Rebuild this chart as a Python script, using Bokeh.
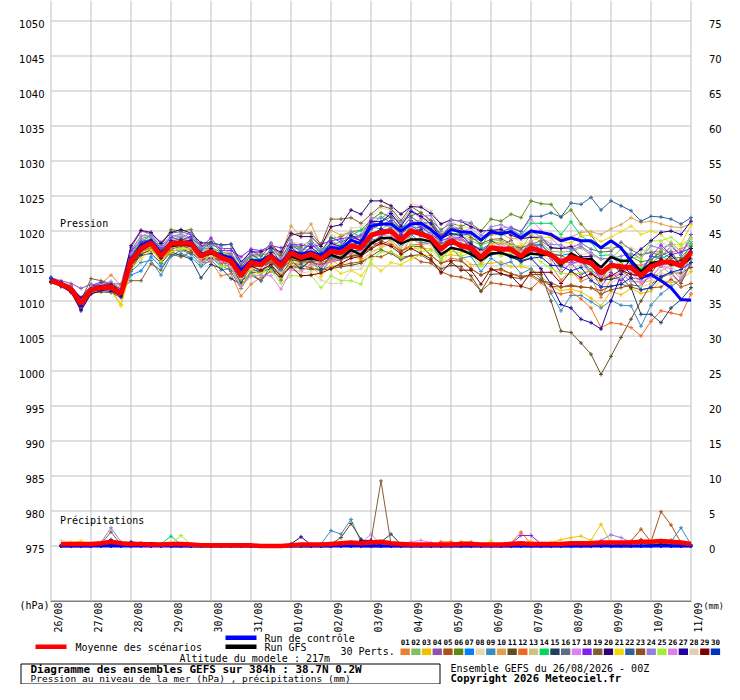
import math
from bokeh.plotting import figure
from bokeh.models import Range1d
from bokeh.layouts import column
from bokeh.embed import file_html
from bokeh.resources import INLINE
from bokeh.core.properties import value

MONO = "DejaVu Sans Mono"
SANS = "DejaVu Sans"

# ---------------- data ----------------
date_labels = ["26/08", "27/08", "28/08", "29/08", "30/08", "31/08", "01/09", "02/09",
               "03/09", "04/09", "05/09", "06/09", "07/09", "08/09", "09/09", "10/09", "11/09"]
day_ticks = list(range(17))
hpa_ticks = [975, 980, 985, 990, 995, 1000, 1005, 1010, 1015, 1020, 1025, 1030, 1035, 1040, 1045, 1050]
mm_ticks = [0, 5, 10, 15, 20, 25, 30, 35, 40, 45, 50, 55, 60, 65, 70, 75]
hours = list(range(0, 385, 6))          # 65 forecast steps, every 6 h
days = [h / 24 for h in hours]

colors = ["#E8802E", "#80C060", "#F0C000", "#9050B0", "#B05010", "#5A8A10", "#0080FF", "#E8D8B0",
          "#3A8AC0", "#E0A050", "#605020", "#F06820", "#D0C080", "#00D860", "#204060", "#607080",
          "#E080F0", "#8020F0", "#806030", "#300070", "#F0D800", "#3060A0", "#905020", "#9080E0",
          "#A0F030", "#E080E0", "#2000A0", "#E0D0B0", "#800000", "#0030C0"]

# ensemble mean sea level pressure (hPa)
mean_p = [1012.9, 1012.4, 1011.7, 1009.6, 1011.6,
          1011.9, 1012.0, 1011.0, 1015.7, 1017.5,
          1018.3, 1016.4, 1018.2, 1018.3, 1018.2,
          1016.4, 1017.1, 1016.2, 1015.7, 1013.6,
          1015.5, 1015.2, 1016.4, 1015.0, 1016.9,
          1016.2, 1016.7, 1016.0, 1017.1, 1016.9,
          1017.9, 1017.6, 1019.4, 1019.8, 1020.0,
          1018.7, 1020.0, 1019.6, 1019.0, 1017.4,
          1018.6, 1017.9, 1017.6, 1016.2, 1017.6,
          1017.4, 1017.4, 1016.4, 1017.6, 1017.1,
          1016.6, 1015.5, 1016.3, 1015.8, 1015.4,
          1014.0, 1015.1, 1014.9, 1014.8, 1013.6,
          1014.9, 1015.5, 1015.6, 1015.0, 1017.0]

# departures of each run from the ensemble mean (hPa)
ctrl_dev = [0.2,0.1,0.0,-0.3,0.2, 0.1,0.0,-0.2,0.2,0.5, 0.3,0.4,0.2,0.0,0.3, 0.2,0.0,0.3,0.5,0.8, 0.3,0.5,0.2,0.4,0.2, 0.5,0.3,0.4,0.6,0.5, 0.8,0.6,1.3,1.2,1.0, 1.3,1.0,1.5,1.2,1.5, 1.6,2.0,2.2,2.5,2.3, 2.2,2.5,2.6,2.4,2.7, 2.9,3.1,2.7,2.8,3.2, 3.6,3.5,2.7,0.9,-0.3, -1.1,-2.6,-3.7,-4.8,-6.9]
gfs_dev = [-0.1,0.0,-0.2,0.2,0.0, 0.2,-0.1,0.1,-0.3,-0.2, -0.2,0.2,-0.4,-0.2,-0.3, 0.0,-0.3,0.1,-0.2,0.3, -0.2,0.0,-0.3,0.2,-0.5, -0.3,-0.6,-0.2,-0.5,-0.8, -0.6,-1.0,-1.2,-0.8,-1.0, -0.5,-1.2,-0.8,-0.5,-0.8, -1.0,-0.6,-0.9,-0.4,-0.8, -0.5,-1.0,-0.3,-0.8,-0.5, 0.0,-0.4,0.5,0.2,0.6, 0.8,1.2,0.8,1.0,0.6, 0.5,0.2,-0.3,0.0,-0.8]

d01 = [0.2,0.3,0.5,0.8,0.4, 0.6,1.7,1.2,-1.0,-0.5, -0.8,-0.4,-0.9,-1.2,-0.6, -1.0,-1.5,-2.6,-1.8,-2.9, -3.1,-1.8,-2.2,-1.5,-1.0, -0.5,0.2,-0.8,-1.2,-0.6, -1.5,-0.8,-1.2,-2.0,-1.5, -2.0,-1.0,-1.5,-0.8,-0.5, -1.2,-0.6,-0.3,-0.8,0.2, -0.5,0.3,0.8,0.2,-0.8, -1.5,-2.5,-2.0,-3.0,-2.0, -3.5,-2.0,-1.0,0.5,1.5, 0.8,2.0,1.2,2.5,1.0]
d02 = [0.1,0.0,0.2,0.4,0.3, 0.2,-0.1,0.5,0.8,1.2, 0.8,1.0,0.5,0.9,0.4, 0.6,0.8,0.2,0.5,0.8, 0.2,0.5,-0.2,0.4,0.8, 1.2,0.5,0.8,1.5,1.0, 1.6,0.9,1.2,0.5,1.0, 0.6,1.4,0.8,1.2,0.3, 0.8,1.5,1.0,1.8,0.9, 1.3,0.5,1.0,2.0,1.2, 0.5,1.5,0.8,1.8,1.2, 2.0,1.0,2.5,1.8,3.0, 2.2,1.5,2.8,2.0,1.5]
d03 = [-0.2,-0.1,-0.3,-0.6,-0.4, -0.5,-0.3,-1.5,-1.2,-0.6, -0.4,-0.9,-0.3,-0.8,-1.0, -0.5,-0.9,-0.2,-0.6,-1.0, -0.7,-0.2,-0.8,-0.4,-1.2, -0.8,-1.5,-0.9,-1.2,-2.0, -1.2,-1.8,-2.5,-2.2,-1.8, -1.5,-2.5,-2.0,-1.6,-1.0, -2.0,-1.5,-2.4,-1.0,-2.2, -1.8,-2.5,-1.5,-3.0,-3.5, -4.5,-4.0,-4.6,-4.5,-5.0, -4.7,-3.7,-4.0,-3.0,-2.5, -3.5,-2.5,-3.0,-2.0,-2.8]
d04 = [0.4,0.5,0.8,2.2,0.8, 0.3,0.5,1.4,1.9,2.5, 1.3,2.0,1.5,1.6,1.3, 1.5,1.0,1.3,1.8,1.5, 1.8,1.2,1.5,1.0,1.8, 1.0,1.5,0.8,1.2,0.5, 1.0,1.5,0.8,1.2,0.6, 1.0,0.5,0.9,1.3,0.8, 0.2,0.8,0.5,1.0,0.4, -0.2,0.5,0.0,0.8,0.3, -0.5,0.2,-0.8,0.5,0.0, -1.0,0.5,-0.3,1.0,0.5, 1.5,0.8,2.2,1.5,2.5]
d05 = [0.0,-0.2,0.1,0.3,0.0, -0.3,0.2,-0.2,-0.5,-0.8, -1.0,-0.6,-0.8,-0.5,-0.7, -0.9,-0.4,-0.8,-0.3,-0.5, -0.8,-1.2,-0.6,-1.0,-1.5, -1.0,-2.0,-1.5,-2.2,-1.8, -2.5,-2.0,-3.0,-3.5,-3.0, -2.5,-3.5,-4.0,-3.6,-3.2, -5.0,-4.5,-4.6,-4.8,-5.0, -5.0,-5.2,-4.3,-5.9,-4.0, -4.5,-3.5,-4.0,-3.8,-3.5, -2.5,-3.0,-2.5,-2.8,-2.0, -3.0,-3.5,-2.5,-3.0,-4.5]
d06 = [0.3,0.2,0.0,0.5,0.2, 0.5,0.3,0.8,1.5,1.8, 1.0,1.5,2.0,1.7,2.0, 1.2,1.4,0.8,1.0,1.2, 0.8,1.3,0.6,1.5,1.0, 1.5,2.0,1.2,1.8,2.3, 2.0,2.5,2.2,2.8,2.0, 2.5,2.2,3.0,2.5,2.8, 2.5,2.8,3.5,3.8,4.1, 4.0,5.0,5.5,6.7,6.8, 7.2,6.5,6.7,5.2,4.0, 3.5,2.5,2.8,1.5,2.0, 1.0,1.5,0.5,1.2,0.8]
d07 = [0.5,0.2,0.3,-0.2,0.5, 0.2,-0.3,0.0,-2.0,-3.2, -2.0,-1.5,-1.8,-1.0,-1.5, -1.2,-0.8,-1.3,-0.6,-1.0, -0.5,-1.0,-0.4,-0.9,-0.3, -0.8,-0.2,-0.6,-1.0,-0.4, -0.5,0.3,-0.4,0.2,0.5, 0.0,0.8,0.2,0.5,-0.2, 0.3,-0.5,0.2,-0.3,0.5, 0.0,0.6,-0.2,0.3,0.8, 0.2,1.0,0.5,0.0,-1.0, -0.5,0.5,-1.0,0.0,0.8, 1.5,0.5,1.2,0.3,-1.0]
d08 = [-0.3,0.0,-0.2,0.2,-0.3, 0.1,-0.5,0.3,0.5,0.2, 0.5,0.2,0.8,0.3,0.6, 0.2,0.5,0.9,0.4,0.6, 1.0,0.5,1.2,0.8,1.5, 2.0,1.5,2.2,2.5,1.8, 2.5,3.0,2.5,3.5,3.0, 3.7,3.9,4.0,3.9,3.6, 3.1,2.5,3.0,2.2,2.8, 2.0,2.5,1.8,2.5,1.5, 2.0,1.0,1.5,0.8,1.5, 2.0,2.5,3.0,2.8,3.5, 2.5,3.0,2.0,2.8,1.8]
d09 = [0.2,0.0,-0.3,-0.5,-0.2, 0.0,-0.4,-0.3,-1.5,-2.0, -2.5,-2.7,-1.8,-1.5,-2.0, -1.5,-1.2,-1.8,-1.0,-1.5, -1.2,-0.8,-1.5,-1.0,-1.8, -1.4,-1.0,-1.8,-1.2,-0.8, -1.5,-1.0,-0.5,-1.2,-0.8, -1.0,-0.5,-1.2,-0.8,-1.5, -1.0,-1.8,-1.2,-2.0,-1.5, -2.2,-1.8,-2.5,-3.0,-4.0, -5.5,-6.9,-5.5,-5.0,-5.5, -5.0,-5.0,-5.5,-5.5,-7.2, -5.5,-4.5,-3.5,-2.0,-1.5]
d10 = [0.0,0.3,0.1,-0.3,0.2, 0.4,0.6,0.9,0.3,0.5, 0.2,0.6,-0.2,0.4,0.8, 0.3,0.6,0.0,0.8,0.4, 0.6,0.2,0.9,1.5,3.8, 3.0,4.3,1.8,3.0,2.5, 2.0,1.5,2.0,1.0,1.5, 1.8,1.2,2.0,1.5,2.2, 1.5,2.0,1.2,2.5,1.8, 2.2,1.5,2.5,2.0,2.8, 3.0,3.5,2.8,4.0,4.5, 5.5,5.2,6.0,7.1,7.6, 6.5,5.5,5.0,5.5,4.0]
d11 = [-0.2,-0.3,-0.5,-0.8,-0.5, -0.6,-0.8,-0.5,-1.2,-0.8, -1.0,-0.5,-1.2,-0.8,-1.3, -0.6,-1.0,-0.4,-1.2,-0.8, -1.5,-1.0,-1.8,-1.2,-2.0, -1.5,-2.2,-1.6,-2.5,-2.0, -2.8,-2.2,-3.0,-2.5,-3.2, -2.8,-3.5,-3.0,-3.3,-2.8, -3.5,-3.0,-4.0,-4.8,-3.8, -3.5,-4.0,-3.2,-3.8,-3.3, -6.6,-9.8,-10.8,-11.8,-13.0, -14.5,-13.0,-10.1,-7.4,-3.6, -2.5,-2.2,-1.6,-1.0,-2.2]
d12 = [0.1,0.0,-0.2,0.0,0.3, 0.2,0.5,0.2,0.8,0.3, -0.2,0.3,-0.5,0.0,-0.4, 0.0,-0.5,0.2,-0.3,0.2, -0.4,0.0,-0.6,-0.2,-0.8, -0.4,-1.0,-0.5,-1.2,-0.8, -1.0,-1.5,-1.0,-1.8,-1.2, -1.5,-2.0,-1.5,-2.5,-2.0, -2.5,-2.0,-3.0,-2.5,-3.2, -3.0,-3.5,-2.8,-4.0,-4.5, -5.2,-4.5,-5.0,-5.5,-6.4, -7.8,-8.2,-8.2,-8.6,-8.6, -7.8,-6.9,-7.3,-7.0,-6.0]
d13 = [-0.1,0.2,-0.2,0.2,-0.1, 0.3,0.0,-0.3,0.2,-0.5, 0.0,-0.3,0.3,-0.2,0.2, -0.3,0.2,-0.5,0.0,-0.4, 0.2,-0.3,0.5,-0.2,0.3, -0.2,0.5,-0.4,0.3,-0.5, 0.0,-0.6,0.4,-0.3,0.8, 0.2,1.0,0.4,1.2,0.5, 1.0,0.3,0.8,0.0,0.6, -0.5,0.2,-0.3,0.5,-0.8, 0.0,-1.0,0.5,-0.5,-1.5, -0.5,-1.8,-0.8,-2.0,-1.0, -2.0,-1.2,-0.5,-1.5,-0.5]
d14 = [0.3,0.1,0.4,0.6,0.5, 0.0,0.4,0.6,1.0,0.8, 1.2,0.7,1.0,1.3,0.8, 1.0,0.5,0.8,0.3,0.9, 0.5,0.8,0.3,0.7,0.2, 0.8,0.4,1.2,0.6,1.0, 1.5,2.5,1.5,2.2,1.2, 1.8,1.0,1.5,0.8,1.5, 1.0,1.8,2.2,1.5,2.5, 2.0,2.8,3.0,3.5,4.0, 4.5,4.0,5.0,3.5,3.0, 2.5,1.5,1.0,0.5,1.0, 0.5,1.0,0.0,0.5,1.2]
d15 = [0.2,0.3,0.0,-0.3,0.1, -0.2,0.0,0.5,-0.5,-1.0, -1.5,-1.0,-1.2,-1.8,-2.2, -3.1,-1.9,-1.5,-2.5,-1.2, -1.8,-2.3,-1.5,-2.0,-1.2, -1.6,-0.8,-1.4,-0.5,-1.0, -0.8,-0.3,-1.0,-0.5,0.0, -0.5,0.3,-0.4,0.5,0.0, 0.5,0.0,0.8,0.2,1.0, 0.5,1.2,0.3,1.0,0.0, -0.5,0.5,-1.0,0.0,-1.5, -1.0,-2.0,-1.5,-2.9,-5.5, -6.8,-8.6,-6.6,-4.8,-5.1]
d16 = [-0.3,-0.2,0.0,0.4,0.0, 0.0,-0.2,0.3,0.0,-0.3, -0.5,0.0,-0.3,0.2,-0.2, -0.8,-0.3,-1.0,-1.5,-1.8, -1.5,-2.3,-2.0,-1.5,-1.0, -0.5,-1.0,-0.2,-0.8,0.0, -0.3,0.5,0.0,0.5,-0.2, 0.3,-0.2,0.5,0.0,0.8, 0.3,1.0,0.5,1.2,0.6, 1.0,0.4,1.2,0.5,1.5, 1.0,2.0,1.2,2.5,2.0, 3.0,2.0,3.5,2.5,3.0, 2.0,1.0,1.5,0.0,-1.0]
d17 = [0.3,0.4,0.2,0.6,0.3, 0.5,0.2,0.7,1.2,1.8, 1.5,1.0,0.8,1.2,0.5, 0.8,0.2,0.5,0.0,0.4, -0.2,0.5,-0.5,-0.2,0.5, 0.0,0.8,0.2,1.0,0.5, 1.0,1.8,2.2,1.5,2.5, 2.0,2.8,2.2,2.5,1.8, 2.5,2.0,2.8,3.0,2.2, 3.0,3.2,3.5,4.1,3.0, 2.5,2.0,1.5,2.2,1.0, 0.5,1.5,0.0,-0.5,-1.0, -1.5,-0.5,-1.8,-2.5,-1.5]
d18 = [0.0,0.2,0.4,0.9,0.6, 0.8,0.4,0.2,1.5,1.0, 0.5,1.2,0.9,0.4,1.0, 1.3,1.9,1.0,1.5,2.7, 1.9,2.0,1.5,2.6,1.2, 1.8,1.0,2.1,1.5,2.0, 1.2,1.0,1.8,1.0,1.5, 0.8,1.5,1.0,0.5,1.2, 0.5,1.2,0.0,0.8,-0.3, 0.5,-0.5,0.2,-0.5,0.3, -0.5,-1.5,-0.8,-2.0,-1.0, -2.0,-1.0,-2.0,-0.5,0.5, 1.5,2.5,1.0,2.0,0.5]
d19 = [-0.2,0.0,-0.3,0.5,1.6, 1.0,0.5,0.6,-2.8,-4.6, -3.0,-2.0,-1.5,-2.0,-1.2, -0.8,-0.3,0.5,0.8,1.2, 1.0,1.5,1.9,1.5,2.5, 3.5,3.0,2.1,4.6,4.8, 4.0,3.5,3.0,3.8,3.2, 2.8,3.5,3.0,2.5,2.0, 1.8,2.5,1.5,2.0,1.2, 1.5,0.8,1.2,0.5,1.0, 0.0,1.0,-0.5,0.5,0.0, -1.0,0.0,-0.5,-1.5,-0.5, -1.0,0.5,-0.5,1.0,0.0]
d20 = [0.1,0.3,0.2,0.8,0.6, 0.4,0.3,0.6,2.2,2.6, 1.5,1.8,1.6,1.9,1.5, 1.9,1.2,1.8,2.4,2.0, 1.5,1.8,1.2,2.0,2.8, 3.0,2.5,1.8,3.5,4.0, 5.1,4.8,4.9,4.5,3.6, 3.7,3.5,3.8,3.5,3.6, 3.0,3.5,3.0,3.8,2.5, 2.8,2.0,2.5,1.5,2.0, 1.0,2.0,1.5,0.5,1.0, 0.0,-0.5,0.5,-1.0,0.0, 0.5,-0.5,1.0,0.0,0.5]
d21 = [0.0,-0.2,0.0,-0.4,-0.2, -0.3,-0.6,-1.7,-1.0,-1.5, -1.0,-0.5,-1.2,-0.8,-0.5, -1.0,-0.6,-1.2,-0.8,-1.5, -1.0,-1.5,-0.9,-1.8,-1.2, -2.0,-1.5,-2.5,-2.0,-3.0, -3.5,-4.0,-4.0,-5.5,-4.5, -3.5,-4.0,-3.0,-2.5,-2.0, -1.5,-1.0,-0.5,0.0,0.5, 1.0,0.5,1.5,1.0,2.0, 2.5,3.0,2.0,3.5,4.0, 4.5,4.0,5.0,5.9,5.9, 5.1,4.0,2.5,3.1,3.9]
d22 = [0.4,0.3,0.1,0.3,0.2, 0.3,0.1,0.4,0.6,0.9, 0.4,0.9,0.3,0.6,0.2, 0.9,1.2,1.8,2.4,1.5, 1.2,0.6,1.0,0.5,1.2, 0.8,1.5,1.0,2.0,1.5, 1.2,1.8,1.0,1.5,2.0, 1.5,2.0,1.5,2.2,1.8, 2.2,1.5,2.0,2.5,2.0, 2.5,3.0,3.5,4.5,5.0, 6.0,6.5,7.7,8.0,9.4, 9.0,9.2,8.7,8.1,7.8, 7.2,6.5,6.1,6.0,4.9]
d23 = [-0.1,-0.3,0.0,-0.2,-0.4, -0.1,-0.4,-0.2,-0.8,-0.4, -0.6,-0.2,-0.7,-0.3,-0.8, -0.4,-0.8,-0.3,-0.7,-0.2, -0.6,-0.2,-0.9,-0.5,-1.0, -0.6,-1.2,-0.8,-1.5,-1.0, -1.5,-1.0,-1.8,-1.2,-2.0, -1.6,-2.2,-1.8,-2.5,-2.0, -2.8,-2.2,-3.0,-2.5,-3.2, -2.8,-3.5,-3.0,-3.8,-4.2, -4.0,-3.5,-4.2,-3.8,-3.5, -3.0,-3.5,-3.0,-2.5,-1.5, -1.0,-2.0,-1.5,-2.5,-1.5]
d24 = [0.2,0.1,0.3,0.5,0.7, 0.4,0.8,0.5,1.0,1.4, 1.0,1.4,1.2,0.8,1.5, 1.2,0.8,1.5,1.0,1.8, 1.2,1.5,1.8,1.0,1.5, 1.0,1.8,1.2,1.0,1.5, 2.0,1.5,2.5,2.0,2.8, 2.5,3.0,2.5,3.2,2.5, 3.0,3.5,3.6,3.2,3.0, 3.5,2.8,3.0,2.5,2.0, 1.5,2.5,1.0,2.0,1.5, 2.0,1.0,1.5,2.0,2.5, 3.0,2.0,2.5,1.5,2.0]
d25 = [-0.2,0.1,-0.1,0.3,-0.2, 0.1,-0.3,0.2,-0.6,-0.3, -0.5,-0.8,-0.4,-1.0,-0.6, -1.0,-0.5,-1.3,-0.8,-1.5, -1.8,-1.2,-2.0,-2.5,-3.3, -2.6,-3.0,-4.1,-3.5,-4.0, -5.0,-5.2,-3.5,-2.8,-3.0, -2.5,-2.0,-2.5,-1.8,-1.5, -1.0,-1.5,-0.8,-1.2,-0.5, -1.0,-0.5,-1.2,-0.8,-1.5, -2.0,-1.5,-2.5,-1.8,-1.0, -1.5,-0.5,0.5,1.5,2.5, 3.7,3.1,3.5,3.0,2.0]
d26 = [0.0,-0.1,0.2,0.0,-0.3, -0.2,0.0,-0.4,0.3,0.0, -0.3,0.2,-0.5,-0.2,-0.6, -0.8,-1.2,-0.6,-1.0,-1.5, -2.0,-1.5,-2.8,-3.3,-2.5, -2.0,-1.5,-1.0,-1.5,-0.8, -1.0,-0.5,-1.2,-0.3,-0.8, -0.2,0.5,0.0,0.6,0.2, 0.5,1.0,0.3,0.8,0.2, 0.8,0.0,0.5,1.0,0.2, -0.5,0.5,-1.0,-0.2,-1.5, -0.5,-1.5,-1.0,-2.0,-0.8, -1.5,-0.5,-1.0,-1.8,-0.5]
d27 = [-0.2,-0.3,-0.4,-1.0,-0.6, -0.4,-0.6,-0.3,-0.6,-0.2, 0.3,-0.2,0.4,0.0,0.5, 0.0,0.4,-0.2,0.3,-0.3, 0.3,-0.2,0.5,0.0,0.8, 0.3,1.0,0.5,1.2,0.8, 1.5,1.0,2.0,1.5,2.5, 2.0,2.8,2.5,2.0,1.5, 1.0,1.5,0.5,1.0,0.0, -0.5,-1.0,-0.8,-1.5,-2.5, -4.2,-6.0,-7.3,-8.4,-8.5, -8.0,-5.1,-1.1,1.4,3.8, 3.7,4.3,4.4,4.5,4.4]
d28 = [0.1,0.0,-0.1,0.2,0.4, 0.2,0.0,0.3,-0.5,0.2, -0.3,0.0,-0.6,-0.2,-0.5, -0.3,-0.7,-0.2,-0.6,-0.4, -0.8,-0.5,-1.2,-1.0,-1.8, -2.2,-2.5,-3.0,-4.6,-4.4, -3.5,-3.0,-2.5,-2.0,-1.5, -1.0,-1.5,-0.5,-1.0,0.0, -0.5,0.5,0.0,0.8,0.2, 0.5,1.0,0.3,0.0,-0.5, -1.0,0.0,-1.5,-0.8,-2.0, -1.5,-2.5,-1.5,-0.5,-1.5, -2.5,-1.5,-2.0,-0.5,-1.0]
d29 = [-0.1,0.2,0.0,-0.2,0.2, 0.0,0.3,-0.2,0.4,0.0, 0.2,-0.3,0.0,0.4,-0.2, 0.3,-0.2,0.4,-0.4,0.0, -0.5,-0.8,-1.2,-1.5,-2.0, -2.6,-3.0,-2.0,-2.5,-1.5, -1.8,-1.2,-2.0,-1.5,-2.2, -2.0,-2.5,-2.8,-3.0,-3.4, -3.0,-3.5,-3.2,-3.8,-3.0, -3.5,-3.8,-4.3,-3.5,-3.0, -2.5,-3.0,-2.0,-2.5,-1.5, -1.0,-1.5,-0.5,-1.0,0.0, -0.5,0.5,-0.3,0.8,0.0]
d30 = [0.3,0.1,-0.1,-0.4,0.1, 0.1,0.3,-0.4,0.5,0.3, 0.0,0.5,0.2,-0.3,0.3, 0.5,0.0,0.6,0.2,0.6, 0.0,0.4,0.0,0.6,0.3, 0.5,0.0,0.8,0.3,0.6, 0.2,0.7,0.0,0.5,-0.2, 0.5,0.0,0.6,-0.3,0.3, -0.5,0.2,-0.6,0.0,-1.0, -0.5,-1.2,-0.6,-1.5,-0.8, -1.5,-0.5,-2.0,-1.0,-2.5, -2.0,-3.0,-2.5,-1.5,-2.0, -3.0,-2.0,-1.5,-0.5,-1.5]
pert_dev = [d01, d02, d03, d04, d05, d06, d07, d08, d09, d10, d11, d12, d13, d14, d15,
            d16, d17, d18, d19, d20, d21, d22, d23, d24, d25, d26, d27, d28, d29, d30]

# 6-hourly precipitation (mm), steps 6 h ... 384 h
mean_rain = [0.3,0.3,0.3,0.3,0.4,0.6,0.4,0.3, 0.3,0.2,0.2,0.3,0.3,0.2,0.1,0.1, 0.1,0.1,0.1,0.1,0.0,0.0,0.0,0.1, 0.2,0.2,0.2,0.3,0.4,0.5,0.4,0.5, 0.6,0.4,0.3,0.2,0.2,0.2,0.2,0.2, 0.3,0.3,0.2,0.2,0.2,0.3,0.4,0.3, 0.3,0.3,0.3,0.4,0.4,0.4,0.5,0.5, 0.5,0.5,0.6,0.6,0.7,0.6,0.5,0.3]
gfs_rain = [0,0,0,0,0.3,0.4,0.2,0, 0.2,0.4,0.2,0,0,0,0,0, 0,0,0,0,0,0,0,0, 0,0,0,0,0.2,0.3,0,0, 0,0,0,0,0,0,0,0, 0,0,0,0,0,0,0,0, 0,0,0,0,0,0,0.2,0, 0,0,0,0,0.2,0,0,0]
ctrl_rain = [0,0,0,0,0,0,0,0, 0,0,0,0,0,0,0,0, 0,0,0,0,0,0,0,0, 0,0,0,0,0,0,0,0, 0,0,0,0,0,0,0,0, 0,0,0,0,0,0,0,0, 0,0,0,0,0,0,0,0, 0,0,0,0,0,0,0,0]
r01 = [0.2,0.3,0,0,0.2,0.4,0.1,0, 0,0,0,0.2,0,0,0,0, 0,0,0,0,0,0,0,0, 0,0,0,0,0.2,0.3,0.1,0, 0,0,0,0,0,0,0,0, 0.6,0.6,0.2,0,0,0,0.2,0, 0,0,0,0.1,0,0,0,0, 0,0.3,0.9,0.4,0.2,0,0,0]
r02 = [0.1,0,0,0,0.2,0.3,0,0, 0,0,0,0,0.3,0.2,0,0, 0,0,0,0,0,0,0,0, 0,0,0,0,0,0,0.3,0.2, 0,0,0,0,0,0,0,0, 0,0,0,0,0,0,0,0, 0,0,0,0,0,0.2,0.3,0, 0,0,0,0.3,0.5,0.2,0,0]
r03 = [0,0,0,0,0,0,0,0, 0,0.3,0.1,0,0,0,0,0, 0,0,0,0,0,0,0,0, 0,0,0,0,0,0,0,0, 0,0,0,0,0,0,0,0, 0,0,0,0,0,0,0,0.3, 0.2,0.5,0.9,1.2,1.4,0.8,3.1,0.4, 0,0,0,0,0.2,0,0,0]
r04 = [0,0,0,0,0.2,0.6,0.2,0, 0,0,0,0,0,0,0,0, 0,0,0,0,0,0,0,0, 0,0,0,0,0,0,0,0, 0,0,0,0,0,0,0,0, 0,0,0,0,0,0,0,0, 0,0,0,0,0,0,0,0, 0,0,0,0.2,0.3,0,0,0]
r05 = [0,0,0,0,0,0.2,0,0, 0,0,0,0,0,0,0,0, 0,0,0,0,0,0,0,0, 0,0,0,0,0,0,0,0, 0,0,0,0,0,0,0,0, 0,0,0,0,0,0,0,0, 0,0,0,0,0,0,0.2,0.4, 0.5,0.7,2.4,0.6,4.9,3.0,0.5,0]
r06 = [0,0,0,0,0.1,0.3,0,0, 0,0,0,0,0,0,0,0, 0,0,0,0,0,0,0,0, 0,0,0,0,0,0,0,0, 0,0,0,0,0,0,0,0, 0,0,0,0,0,0,0,0, 0,0,0,0,0,0,0,0, 0,0,0,0,0,0.3,0.2,0]
r07 = [0,0,0,0,0,0,0,0.2, 0.1,0,0,0,0,0,0,0, 0,0,0,0,0,0,0,0, 0,0,0,0,0,0,0,0, 0,0,0,0,0,0,0,0, 0,0,0,0,0,0,0,0, 0,0,0,0,0,0,0,0, 0,0,0,0,0,0,0,0]
r08 = [0.8,0.6,0.2,0,0,0,0,0, 0,0,0,0,0,0,0,0, 0,0,0,0,0,0,0,0, 0,0,0,0,0,0,0,0, 0,0,0,0,0,0,0,0, 0,0,0,0,0.2,0,0,0, 0,0,0,0,0,0,0,0, 0,0,0,0,0,0,0,0]
r09 = [0,0,0,0,0,0,0,0, 0,0,0,0,0,0,0,0, 0,0,0,0,0,0,0,0, 0,0,0.3,2.2,1.7,3.8,0.6,0.2, 0,0,0,0,0,0,0,0, 0,0,0,0,0,0,0,0, 0,0,0,0,0,0,0,0, 0,0,0,0,0,0.6,2.6,0.2]
r10 = [0,0,0,0,0,0,0,0, 0,0,0,0,0,0,0,0, 0,0,0,0,0,0,0,0, 0,0,0,0,0,0,0,0, 0,0,0,0,0,0,0,0, 0,0,0,0.3,0,0,0,0, 0,0,0,0,0,0,0,0, 0,0,0,0,0,0,0,0]
r11 = [0,0,0,0,0,0,0,0, 0,0,0,0,0,0,0,0, 0,0,0,0,0,0,0,0, 0,0,0,0.3,1.2,3.2,1.0,0.2, 0,0,0,0,0,0,0,0, 0,0,0,0,0,0,0,0, 0,0,0,0,0,0,0,0, 0,0,0,0,0,0,0,0]
r12 = [0,0,0,0,0,0,0,0, 0,0,0,0,0,0,0,0, 0,0,0,0,0,0,0,0, 0,0,0,0,0,0,0,0, 0,0,0,0,0,0,0.6,0.6, 0.2,0,0,0,0,0.4,2.0,0.3, 0,0,0,0,0,0,0,0, 0,0,0,0,0,0,0,0]
r13 = [0,0,0,0,0,0.3,0,0, 0,0,0,0,0,0,0,0, 0,0,0,0,0,0,0,0, 0,0,0,0,0,0,0,0, 0,0,0,0,0,0,0,0.2, 0,0,0,0,0,0,0,0, 0,0,0,0,0,0,0,0, 0,0,0,0,0,0,0,0]
r14 = [0,0,0,0,0,0,0,0, 0,0,0.3,1.4,0.2,0,0,0, 0,0,0,0,0,0,0,0, 0,0,0,0,0,0,0,0, 0,0,0,0,0,0,0,0, 0,0,0,0,0,0,0,0, 0,0,0,0,0,0,0,0, 0,0,0,0.4,0,0,0,0]
r15 = [0,0,0,0,0,0,0,0, 0,0,0,0,0,0,0,0, 0,0,0,0,0,0,0,0, 0,0,0,0,0,0,0,0, 0.6,1.7,0.2,0,0,0,0,0, 0,0,0,0,0,0,0,0, 0,0,0,0,0,0,0,0, 0,0,0,0,0,0.8,0,0]
r16 = [0,0,0,0,0,0,0,0, 0,0,0,0,0,0,0,0, 0,0,0,0,0,0,0,0, 0,0,0,0,0.3,0,0,0, 0,0,0,0,0,0,0,0, 0,0,0,0,0,0,0,0, 0,0,0,0,0,0,0,0, 0,0,0,0,0,0,0,0]
r17 = [0,0,0,0,0,0,0,0, 0,0,0,0,0,0,0,0, 0,0,0,0,0,0,0,0, 0,0,0,0,0,0,0.4,1.7, 0.2,0,0,0,0,0,0,0, 0,0,0,0,0,0,0,0, 0,0,0,0,0,0,0,0, 0,0,0,0,0,0,0,0]
r18 = [0,0,0,0,0,0,0,0, 0,0,0,0,0,0,0,0, 0,0,0,0,0,0,0,0, 0,0,0,0,0,0,0,0, 0,0,0,0,0,0,0,0, 0,0,0,0,0,0.3,1.5,1.5, 0.3,0,0,0,0,0,0,0, 0,0,0,0,0,0,0,0]
r19 = [0,0,0,0,0.3,2.0,0.2,0, 0,0,0,0,0,0,0,0, 0,0,0,0,0,0,0,0, 0,0,0,0,0,0,0,0.8, 9.3,0.3,0,0,0,0,0,0, 0,0,0,0,0,0,0,0, 0,0,0,0,0,0,0,0, 0,0,0,0,0,0,0,0]
r20 = [0,0,0,0,0,0,0,0, 0,0,0,0,0,0,0,0, 0,0,0,0,0,0,0,0.3, 1.3,0.2,0,0,0,0,0,0, 0,0,0,0,0,0,0,0, 0,0,0,0,0,0,0,0, 0,0,0,0,0,0,0,0, 0,0,0,0,0,0,0,0]
r21 = [0,0.5,0.7,0.2,0,0,0,0, 0,0,0,0,0,0,0,0, 0,0,0,0,0,0,0,0, 0,0,0,0,0,0,0,0, 0,0,0,0,0,0,0,0, 0,0,0,0,0,0,0,0.7, 0,0,0,0,0,0,0,0, 0,0,0,0,0,0,0,0]
r22 = [0,0,0,0,0,0,0,0, 0,0,0,0,0,0,0,0, 0,0,0,0,0,0,0,0, 0,0,0,0,0,0,0,0, 0,0,0.3,0,0,0,0,0, 0,0,0,0,0,0,0,0, 0,0,0,0,0,0,0,0, 0,0,0,0,0,0,0,0]
r23 = [0,0,0,0,0,0,0,0, 0,0,0,0,0,0,0,0, 0,0,0,0,0,0,0,0, 0,0,0,0,0,0,0,0, 0,0,0,0,0,0,0,0, 0,0,0,0,0,0,0,0, 0,0,0,0,0,0,0,0, 0,0.4,0.9,0,0,0,0,0]
r24 = [0,0,0,0,0.5,2.6,0.6,0, 0,0,0,0,0,0,0,0, 0,0,0,0,0,0,0,0, 0,0,0,0,0,0,0,0, 0,0,0,0,0,0,0,0, 0,0,0,0,0,0,0,0, 0,0,0,0,0,0,0.8,1.6, 1.2,0.5,0,0,0,0,0,0]
r25 = [0,0,0,0,0,0,0,0, 0,0,0,0.3,1.5,0.2,0,0, 0,0,0,0,0,0,0,0, 0,0,0,0,0,0,0,0, 0,0,0,0,0,0,0,0, 0,0,0,0.7,0,0,0,0, 0,0,0,0,0,0,0,0, 0,0,0,0.8,0,0,0,0]
r26 = [0,0,0,0,0,0,0,0, 0,0,0,0,0,0,0,0, 0,0,0,0,0,0,0,0, 0,0,0,0,0,0,0,0, 0,0,0,0.6,0.8,0.5,0,0, 0,0,0,0,0,0,0,0, 0,0,0,0,0,0,0,0, 0,0,0,0,0,0,0,0]
r27 = [0,0,0,0,0,0.9,0,0, 0,0,0,0,0,0,0,0, 0,0,0,0,0,0,0,0, 0,0,0,0,0,0,0.8,0.8, 0,0,0,0,0,0,0,0, 0,0,0,0,0,0,0,0, 0,0,0,0,0,0,0,0, 0,0,0,0,0,0,0,0]
r28 = [0.3,0,0,0,0,0,0,0, 0,0,0,0,0,0,0,0, 0,0,0,0,0,0,0,0, 0,0,0,0,0,0,0,0, 0,0,0,0,0,0,0,0, 0,0,0,0,0,0,0,0, 0,0,0,0,0,0,0,0, 0,0,0,0,0,0,0,0]
r29 = [0,0,0,0,0,0,0,0, 0,0,0,0,0,0,0,0, 0,0,0,0,0,0,0,0, 0,0,0,0,0,0,0,0, 0,0,0,0,0,0,0,0, 0,0,0,0,0,0,0,0, 0,0,0,0,0,0,0,0, 0.3,0,0,0,0,0,0,0]
r30 = [0,0,0,0,0,0,0,0.6, 0.4,0,0,0,0,0,0,0, 0,0,0,0,0,0,0,0, 0,0,0,0,0,0,0,0, 0,0,0,0,0,0,0,0, 0,0,0,0,0,0,0,0, 0,0,0,0,0,0,0,0, 0,0,0,0,0,0,0,0]
pert_rain = [r01, r02, r03, r04, r05, r06, r07, r08, r09, r10, r11, r12, r13, r14, r15,
             r16, r17, r18, r19, r20, r21, r22, r23, r24, r25, r26, r27, r28, r29, r30]

for i, s in enumerate(pert_dev + [mean_p, ctrl_dev, gfs_dev]):
    if len(s) != len(days):
        raise ValueError("pressure series %d has %d values" % (i, len(s)))
for i, s in enumerate(pert_rain + [mean_rain, gfs_rain, ctrl_rain]):
    if len(s) != len(days) - 1:
        raise ValueError("rain series %d has %d values" % (i, len(s)))

# ---------------- layout (pixels) ----------------
W = 724                 # page width available
H_MAIN = 600            # main chart canvas height (frame = whole canvas)
H_STRIP = 84            # legend strip below
PX_DAY = 40.0           # pixels per day
PX_HPA = 7.0            # pixels per hPa (= per mm)
X_DAY0 = 50.5           # pixel column of day 0 grid line
Y_1050 = 20.5           # pixel row of the 1050 hPa grid line
LABEL_DROP = 2.5 / PX_HPA
GRID = "#C0C0C0"

X_START = -X_DAY0 / PX_DAY
X_END = (W - X_DAY0) / PX_DAY
Y_TOP = 1050 + Y_1050 / PX_HPA
Y_BOT = Y_TOP - H_MAIN / PX_HPA

p = figure(width=W, height=H_MAIN, x_range=Range1d(X_START, X_END), y_range=Range1d(Y_BOT, Y_TOP),
           x_axis_location=None, y_axis_location=None,
           min_border_left=0, min_border_right=0, min_border_top=0, min_border_bottom=0,
           toolbar_location=None, output_backend="svg", outline_line_color=None,
           background_fill_color="white", border_fill_color="white")
p.grid.visible = False
p.extra_y_ranges = {"mm": Range1d(Y_BOT - 975, Y_TOP - 975)}

# grid
p.segment(x0=day_ticks, y0=[Y_BOT] * len(day_ticks), x1=day_ticks, y1=[Y_TOP] * len(day_ticks),
          line_color=GRID, line_width=1)
p.segment(x0=[day_ticks[0]] * len(hpa_ticks), y0=hpa_ticks, x1=[day_ticks[-1]] * len(hpa_ticks),
          y1=hpa_ticks, line_color=GRID, line_width=1)

# axis labels: hPa on the left, mm on the right
p.text(x=[day_ticks[0] - 6.5 / PX_DAY] * len(hpa_ticks), y=[v - LABEL_DROP for v in hpa_ticks],
       text=[str(v) for v in hpa_ticks], text_font=value(SANS), text_font_size="10px",
       text_align="right", text_baseline="middle", text_color="black")
p.text(x=[day_ticks[-1] + 18 / PX_DAY] * len(mm_ticks), y=[m - LABEL_DROP for m in mm_ticks],
       y_range_name="mm", text=[str(m) for m in mm_ticks], text_font=value(SANS),
       text_font_size="10px", text_align="left", text_baseline="middle", text_color="black")

rain_days = days[1:]

# precipitation (mm scale)
for c, r in zip(colors, pert_rain):
    p.line(rain_days, r, y_range_name="mm", line_color=c, line_width=1)
    p.scatter(rain_days, r, y_range_name="mm", marker="cross", size=4, line_color=c, line_width=1)
p.line(rain_days, gfs_rain, y_range_name="mm", line_color="black", line_width=2.5)
p.line(rain_days, ctrl_rain, y_range_name="mm", line_color="#0000FF", line_width=3)
p.line(rain_days, mean_rain, y_range_name="mm", line_color="#FF0000", line_width=4.5)

# pressure (hPa scale)
for c, d in zip(colors, pert_dev):
    vals = [m + x for m, x in zip(mean_p, d)]
    p.line(days, vals, line_color=c, line_width=1)
    p.scatter(days, vals, marker="cross", size=4, line_color=c, line_width=1)
p.line(days, [m + x for m, x in zip(mean_p, gfs_dev)], line_color="black", line_width=2.5)
p.line(days, [m + x for m, x in zip(mean_p, ctrl_dev)], line_color="#0000FF", line_width=3)
p.line(days, mean_p, line_color="#FF0000", line_width=5)

p.text(x=[0.225], y=[1050 - 202 / PX_HPA], text=["Pression"], text_font=value(MONO),
       text_font_size="10px", text_align="left", text_baseline="middle", text_color="black")
p.text(x=[0.225], y=[1050 - 499 / PX_HPA], text=["Précipitations"], text_font=value(MONO),
       text_font_size="10px", text_align="left", text_baseline="middle", text_color="black")

# ---------------- bottom strip: dates + legend (pixel coordinates) ----------------
b = figure(width=W, height=H_STRIP, x_range=Range1d(0, W), y_range=Range1d(0, H_STRIP),
           x_axis_location=None, y_axis_location=None,
           min_border_left=0, min_border_right=0, min_border_top=0, min_border_bottom=0,
           toolbar_location=None, output_backend="svg", outline_line_color=None,
           background_fill_color="white", border_fill_color="white")
b.grid.visible = False

def sy(y_page):
    # page row -> strip y (strip starts at page row H_MAIN, y axis points up)
    return H_MAIN + H_STRIP - y_page

def txt(x, y, s, size="10px", style="normal", align="left"):
    b.text(x=[x], y=[sy(y)], text=[s], text_font=value(MONO), text_font_size=size,
           text_font_style=style, text_align=align, text_baseline="middle", text_color="black")

# time axis line and date labels
b.line(x=[X_DAY0 - 0.5, X_DAY0 + PX_DAY * day_ticks[-1] + 0.5], y=[sy(600.5)] * 2,
       line_color="black", line_width=1)
b.text(x=[X_DAY0 + PX_DAY * d + 7 for d in day_ticks], y=[sy(602)] * len(day_ticks),
       text=date_labels, angle=math.pi / 2, text_align="right", text_baseline="middle",
       text_font=value(MONO), text_font_size="10px", text_color="black")
txt(19, 605, "(hPa)")
txt(703, 605, "(mm)", size="8.5px")

# run legend
b.quad(left=[35], right=[66], top=[sy(644)], bottom=[sy(648.5)], fill_color="#FF0000", line_color=None)
b.quad(left=[225], right=[256], top=[sy(635)], bottom=[sy(639.5)], fill_color="#0000FF", line_color=None)
b.quad(left=[225], right=[256], top=[sy(644)], bottom=[sy(648.5)], fill_color="black", line_color=None)
txt(75, 646.5, "Moyenne des scénarios")
txt(264, 637.5, "Run de contrôle")
txt(264, 646.5, "Run GFS")
txt(340, 651, "30 Perts.")
txt(179, 657.5, "Altitude du modele : 217m")

# perturbation colour key
member_ids = ["%02d" % (i + 1) for i in range(len(colors))]
box_left = [400 + 10.7 * i for i in range(len(colors))]
b.quad(left=box_left, right=[v + 9.3 for v in box_left], top=[sy(648)] * len(colors),
       bottom=[sy(654.5)] * len(colors), fill_color=colors, line_color=None)
b.text(x=[v + 4.65 for v in box_left], y=[sy(641.5)] * len(colors), text=member_ids,
       text_font=value(MONO), text_font_size="7.5px", text_font_style="bold",
       text_align="center", text_baseline="middle", text_color="black")

# title box
b.quad(left=[20.5], right=[439.5], top=[sy(663.5)], bottom=[sy(683.5)], fill_color=None,
       line_color="black", line_width=1)
txt(30, 668.8, "Diagramme des ensembles GEFS sur 384h : 38.7N 0.2W", size="11px", style="bold")
txt(30, 677.8, "Pression au niveau de la mer (hPa) , précipitations (mm)", size="9.5px")
txt(450, 667.5, "Ensemble GEFS du 26/08/2026 - 00Z")
txt(450, 677.8, "Copyright 2026 Meteociel.fr", size="10.5px", style="bold")

layout = column(p, b)
open("out.html", "w").write(file_html(layout, INLINE, title="GEFS ensemble diagram"))
